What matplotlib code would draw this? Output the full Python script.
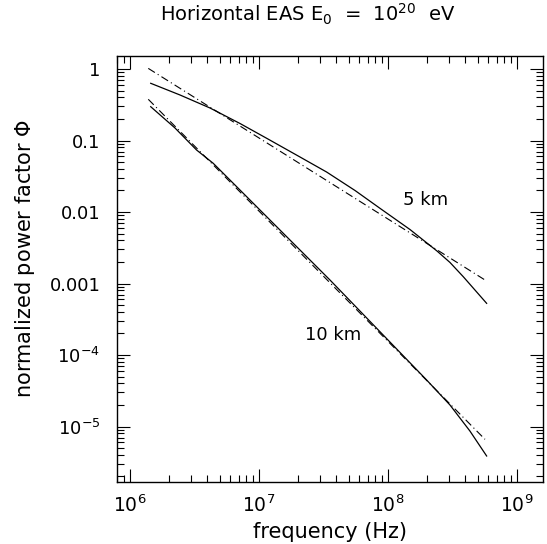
import numpy as np
import matplotlib
matplotlib.use('Agg')
import matplotlib.pyplot as plt
from matplotlib.ticker import LogLocator, FixedLocator, FuncFormatter

plt.rcParams['font.family'] = ['DejaVu Sans']
plt.rcParams['mathtext.fontset'] = 'dejavusans'

# 5 km shower: full calculation (solid) and power-law fit (dash-dot)
f_5km = [1.455e6, 2.455e6, 4.19e6, 7.16e6, 1.153e7, 2.09e7, 3.365e7, 5.58e7,
         8.71e7, 1.489e8, 2.41e8, 3.04e8, 3.855e8, 5.85e8]
phi_5km = [0.631, 0.433, 0.285, 0.173, 0.1074, 0.0588, 0.0362, 0.0200,
           0.01127, 0.00569, 0.00285, 0.00197, 0.001245, 0.000528]
f_5km_fit = [1.393e6, 5.68e8]
phi_5km_fit = [1.02, 1.12e-3]

# 10 km shower
f_10km = [1.455e6, 2.244e6, 3.30e6, 4.44e6, 8.07e6, 1.462e7, 3.57e7, 8.71e7,
          2.005e8, 3.04e8, 4.34e8, 5.85e8]
phi_10km = [0.297, 0.1496, 0.0736, 0.0480, 0.01637, 0.00560, 0.001119, 2.12e-4,
            4.47e-5, 2.00e-5, 8.65e-6, 3.87e-6]
f_10km_fit = [1.393e6, 5.68e8]
phi_10km_fit = [0.377, 6.62e-6]

y_major = [1, 0.1, 0.01, 0.001, 1e-4, 1e-5, 1e-6]
y_labels = {1: '1', 0.1: '0.1', 0.01: '0.01', 0.001: '0.001'}

W, H = 547, 544
fig = plt.figure(figsize=(W / 100, H / 100), dpi=100)
ax = fig.add_axes([117 / W, 1 - 482 / H, (543 - 117) / W, (482 - 56) / H])

dashdot = (0, (7, 3, 1, 3))
ax.plot(f_5km, phi_5km, color='k', lw=0.9)
ax.plot(f_5km_fit, phi_5km_fit, color='k', lw=0.8, linestyle=dashdot)
ax.plot(f_10km, phi_10km, color='k', lw=0.9)
ax.plot(f_10km_fit, phi_10km_fit, color='k', lw=0.8, linestyle=dashdot)

ax.set_xscale('log')
ax.set_yscale('log')
ax.set_xlim(7.97e5, 1.60e9)
ax.set_ylim(1.675e-6, 1.52)

ax.xaxis.set_major_locator(LogLocator(base=10, numticks=10))
ax.xaxis.set_minor_locator(LogLocator(base=10, subs=np.arange(2, 10), numticks=20))
ax.yaxis.set_major_locator(FixedLocator(y_major))
ax.yaxis.set_minor_locator(LogLocator(base=10, subs=np.arange(2, 10), numticks=20))


def _ylab(v, pos):
    for k, s in y_labels.items():
        if np.isclose(v, k):
            return s
    return r'$10^{%d}$' % int(round(np.log10(v)))


ax.yaxis.set_major_formatter(FuncFormatter(_ylab))
ax.xaxis.set_major_formatter(FuncFormatter(lambda v, p: r'$10^{%d}$' % int(round(np.log10(v)))))

ax.tick_params(which='both', direction='in', top=True, right=True, width=0.8)
ax.tick_params(which='major', length=9.5)
ax.tick_params(which='minor', length=4.8)
ax.tick_params(axis='y', which='major', pad=12, labelsize=13)
ax.tick_params(axis='x', which='major', pad=9, labelsize=13.5)
for s in ax.spines.values():
    s.set_linewidth(1.0)

ax.text(1.95e8, 0.0147, '5 km', fontsize=13, ha='center', va='center')
ax.text(3.78e7, 1.9e-4, '10 km', fontsize=13, ha='center', va='center')

ax.set_xlabel('frequency (Hz)', fontsize=15, labelpad=4)
fig.text(25 / W, 1 - 258 / H, r'normalized power factor $\Phi$', fontsize=15,
         rotation=90, ha='center', va='center')
fig.text(308 / W, 1 - 14 / H, r'Horizontal EAS E$_0$  =  10$^{20}$  eV', fontsize=14,
         ha='center', va='center')

fig.savefig('out.png', dpi=100)
